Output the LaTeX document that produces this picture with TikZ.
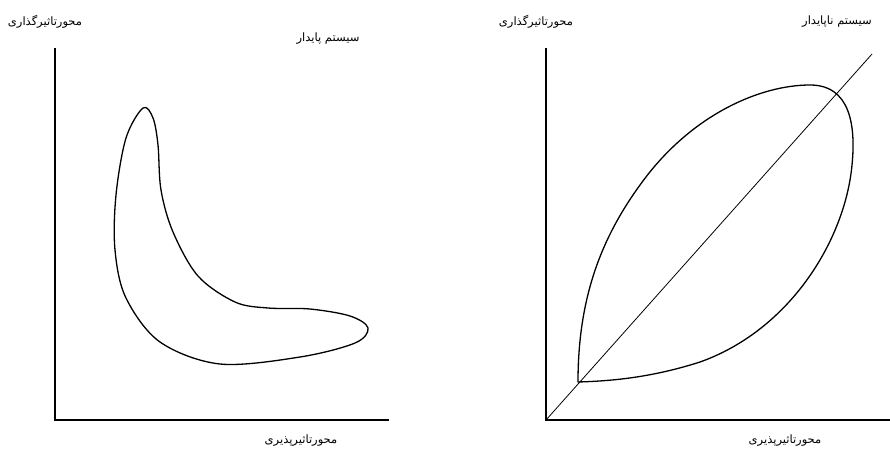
\documentclass[tikz,border=0pt]{standalone}
\usepackage{fontspec}
\newfontfamily\arabicfont[Script=Arabic]{DejaVu Sans}
\TeXXeTstate=1
\tikzset{
  axisline/.style={line width=1.8pt},
  curveline/.style={line width=1.3pt, line join=round},
  diagline/.style={line width=0.8pt},
  lbl/.style={font=\arabicfont\fontsize{11.5}{13}\selectfont, inner sep=0pt}
}
\begin{document}
\begin{tikzpicture}[x=1pt,y=-1pt]
\useasboundingbox (0,0) rectangle (890,463);
% left panel
\coordinate (LT) at (55,48);
\coordinate (LO) at (55,420);
\coordinate (LR) at (389,420);
\draw[axisline] (LT) -- (LO) -- (LR);
\draw[curveline] plot[smooth cycle, tension=0.55] coordinates {
 (143,108) (153,118) (158,145) (161,190) (173,232) (198,276) (235,302) (268,308)
 (310,309) (350,316) (368,328) (355,343) (300,357) (220,364) (160,342) (126,298) (115,250)
 (116,195) (126,138)};
\node[lbl] (l1) at (45,22) {\beginR محورتاثیرگذاری\endR};
\node[lbl] (l2) at (328,39) {\beginR سیستم پایدار\endR};
\node[lbl] (l3) at (301,441) {\beginR محورتاثیرپذیری\endR};
% right panel
\coordinate (RT) at (546,48);
\coordinate (RO) at (546,420);
\coordinate (RR) at (890,420);
\coordinate (RD) at (872,54);
\draw[axisline] (RT) -- (RO) -- (RR);
\draw[diagline] (RO) -- (RD);
\draw[curveline] (578,382) .. controls (578,300) and (600,240) .. (640,185)
  .. controls (690,115) and (760,85) .. (810,85)
  .. controls (850,85) and (856,125) .. (852,165)
  .. controls (845,240) and (790,330) .. (700,362)
  .. controls (650,378) and (610,381) .. (578,382) -- cycle;
\node[lbl] (r1) at (536,22) {\beginR محورتاثیرگذاری\endR};
\node[lbl] (r2) at (837,22) {\beginR سیستم ناپایدار\endR};
\node[lbl] (r3) at (785,441) {\beginR محورتاثیرپذیری\endR};
\end{tikzpicture}
\end{document}
